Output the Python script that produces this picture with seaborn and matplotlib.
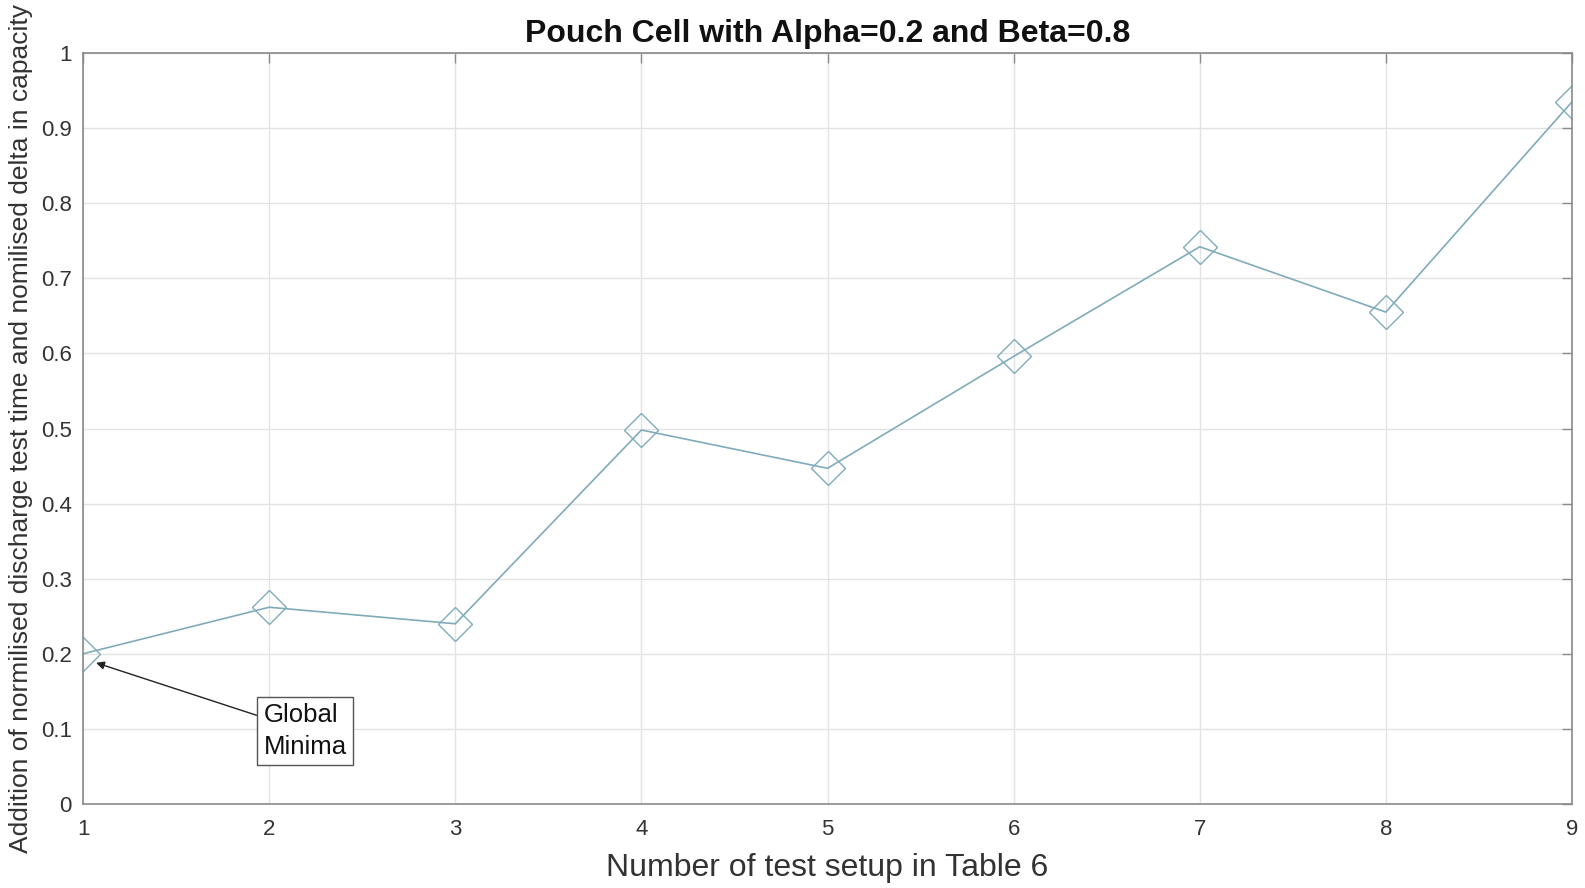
import matplotlib
matplotlib.use("Agg")
import matplotlib.pyplot as plt
import seaborn as sns
import pandas as pd

setups = [1, 2, 3, 4, 5, 6, 7, 8, 9]
values = [0.200, 0.262, 0.240, 0.498, 0.447, 0.596, 0.742, 0.655, 0.935]
yticks = [0, 0.1, 0.2, 0.3, 0.4, 0.5, 0.6, 0.7, 0.8, 0.9, 1]
ytick_labels = ["0", "0.1", "0.2", "0.3", "0.4", "0.5", "0.6", "0.7", "0.8", "0.9", "1"]

sns.set_style("white")
plt.rcParams['font.family'] = ['Liberation Sans', 'DejaVu Sans']

df = pd.DataFrame({"setup": setups, "value": values})

fig = plt.figure(figsize=(15.85, 8.88), dpi=100)
ax = fig.add_axes([0.0524, 0.0946, 0.9394, 0.8457])

line_color = "#80abba"
sns.lineplot(data=df, x="setup", y="value", ax=ax, color=line_color, linewidth=1.2,
             marker="D", markersize=17, markerfacecolor="none",
             markeredgecolor=line_color, markeredgewidth=1.0)

ax.set_xlim(1, 9)
ax.set_ylim(0, 1)
ax.set_xticks(setups)
ax.set_xticklabels([str(s) for s in setups])
ax.set_yticks(yticks)
ax.set_yticklabels(ytick_labels)
ax.grid(True, color="#e3e3e3", linewidth=1.0)
ax.set_axisbelow(True)
for sp in ax.spines.values():
    sp.set_color("#8a8a8a")
    sp.set_linewidth(1.2)
    sp.set_visible(True)
ax.tick_params(axis="both", direction="in", length=7, width=1.0, color="#8a8a8a",
               labelsize=16, labelcolor="#333333", top=True, right=True)
ax.tick_params(axis="x", pad=11)
ax.tick_params(axis="y", pad=8)

ax.set_title("Pouch Cell with Alpha=0.2 and Beta=0.8", fontsize=23, fontweight="bold",
             color="#111111", pad=8)
ax.set_xlabel("Number of test setup in Table 6", fontsize=23, color="#333333", labelpad=9)
ax.set_ylabel("Addition of normilised discharge test time and nomilised delta in capacity",
              fontsize=19, color="#333333", labelpad=6)

ax.annotate("Global\nMinima", xy=(setups[0] + 0.07, values[0] - 0.012),
            xytext=(1.97, 0.097), ha="left", va="center", fontsize=18.5, color="#111111",
            linespacing=1.4,
            bbox=dict(boxstyle="square,pad=0.25", facecolor="white", edgecolor="#555555", linewidth=1.0),
            arrowprops=dict(arrowstyle="-|>", color="#222222", linewidth=1.0, mutation_scale=12,
                            shrinkA=0, shrinkB=0))

fig.savefig("out.png", dpi=100)
